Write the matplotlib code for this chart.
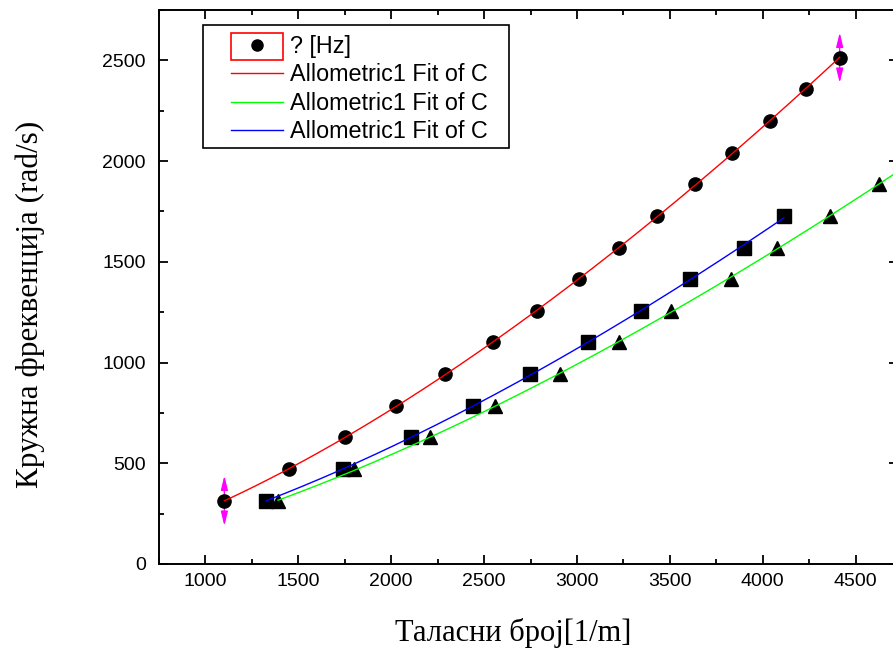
import numpy as np
import matplotlib
matplotlib.use("Agg")
import matplotlib.pyplot as plt
from matplotlib.lines import Line2D
from matplotlib.patches import Rectangle
from matplotlib.ticker import MultipleLocator

# wave number [1/m] and circular frequency [rad/s] for the three series
k_circ = [1102, 1450, 1750, 2024, 2292, 2549, 2785, 3010, 3224, 3433, 3637, 3835, 4039, 4232, 4414]
w_circ = [314, 471, 628, 785, 942, 1100, 1257, 1414, 1571, 1728, 1885, 2042, 2199, 2356, 2513]

k_tri = [1391, 1799, 2211, 2559, 2908, 3224, 3508, 3830, 4076, 4360, 4623]
w_tri = [314, 471, 628, 785, 942, 1100, 1257, 1414, 1571, 1728, 1885]

k_sq = [1327, 1740, 2104, 2442, 2747, 3058, 3342, 3610, 3899, 4114]
w_sq = [314, 471, 628, 785, 942, 1100, 1257, 1414, 1571, 1728]

err_w = 125   # error bar on first/last point of the circle series
xlim = (750, 4730)
ylim = (0, 2750)


def allometric(x, y):
    # y = a * x^b, fitted in log space
    b, loga = np.polyfit(np.log(x), np.log(y), 1)
    return np.exp(loga), b


fig = plt.figure(figsize=(8.93, 6.57), dpi=100)
ax = fig.add_axes([159/893, 93/657, 0.828, 554/657])

# markers
ax.plot(k_circ, w_circ, 'o', color='black', ms=9.5, zorder=2)
ax.plot(k_tri, w_tri, '^', color='black', ms=10, zorder=2)
ax.plot(k_sq, w_sq, 's', color='black', ms=9.5, zorder=2)

# fits
a, b = allometric(k_circ, w_circ)
xx = np.linspace(min(k_circ), max(k_circ), 200)
ax.plot(xx, a*xx**b, color='#ff0000', lw=1, zorder=3)

a, b = allometric(k_tri, w_tri)
xx = np.linspace(min(k_tri), xlim[1], 200)
ax.plot(xx, a*xx**b, color='#00ff00', lw=1, zorder=3)

a, b = allometric(k_sq, w_sq)
xx = np.linspace(min(k_sq), max(k_sq), 200)
ax.plot(xx, a*xx**b, color='#0000ff', lw=1, zorder=3)

# arrow-style error bars, under the markers
for i in (0, -1):
    for s in (1, -1):
        ax.annotate('', xy=(k_circ[i], w_circ[i] + s*err_w), xytext=(k_circ[i], w_circ[i]),
                    arrowprops=dict(arrowstyle='-|>,head_length=0.9,head_width=0.22',
                                    color='#ff00ff', lw=1.0, shrinkA=0, shrinkB=0,
                                    mutation_scale=9.5),
                    zorder=1.5)

ax.set_xlim(*xlim)
ax.set_ylim(*ylim)
ax.xaxis.set_major_locator(MultipleLocator(500))
ax.xaxis.set_minor_locator(MultipleLocator(250))
ax.yaxis.set_major_locator(MultipleLocator(500))
ax.yaxis.set_minor_locator(MultipleLocator(250))
ax.tick_params(which='both', direction='in', top=True, right=True, width=1.3, labelsize=14)
ax.tick_params(axis='x', pad=6.5)
ax.tick_params(axis='y', pad=9.5)
ax.tick_params(which='major', length=6.5)
ax.tick_params(which='minor', length=3.6)
for lab in ax.get_xticklabels() + ax.get_yticklabels():
    lab.set_family('Liberation Sans')
for sp in ax.spines.values():
    sp.set_linewidth(1.4)

ax.set_xlabel('Таласни број[1/m]', family='Liberation Serif', fontsize=22, labelpad=20)
ax.set_ylabel('Кружна фреквенција (rad/s)', family='Liberation Serif', fontsize=22.5, labelpad=41)
ax.xaxis.label.set_x(0.479)
ax.yaxis.label.set_y(0.469)

handles = [
    Line2D([], [], ls='none', marker='o', color='black', ms=8),
    Line2D([], [], color='#ff0000', lw=1),
    Line2D([], [], color='#00ff00', lw=1),
    Line2D([], [], color='#0000ff', lw=1),
]
labels = ['? [Hz]', 'Allometric1 Fit of C', 'Allometric1 Fit of C', 'Allometric1 Fit of C']
leg = ax.legend(handles, labels, loc='upper left',
                bbox_to_anchor=(231/893, 1 - 35/657), bbox_transform=fig.transFigure,
                prop={'family': 'Liberation Sans', 'size': 16.8},
                frameon=False, borderaxespad=0, borderpad=0,
                handlelength=2.23, handletextpad=0.3, labelspacing=0.23)

# legend frame and the selection box round the first handle
fig.add_artist(Rectangle((203/893, 1 - 148/657), 306/893, 123/657, transform=fig.transFigure,
                         fill=False, ec='black', lw=1.2))
fig.add_artist(Rectangle((231/893, 1 - 60/657), 52/893, 27/657, transform=fig.transFigure,
                         fill=False, ec='#ff0000', lw=1.2))

fig.savefig('out.png', dpi=100)
